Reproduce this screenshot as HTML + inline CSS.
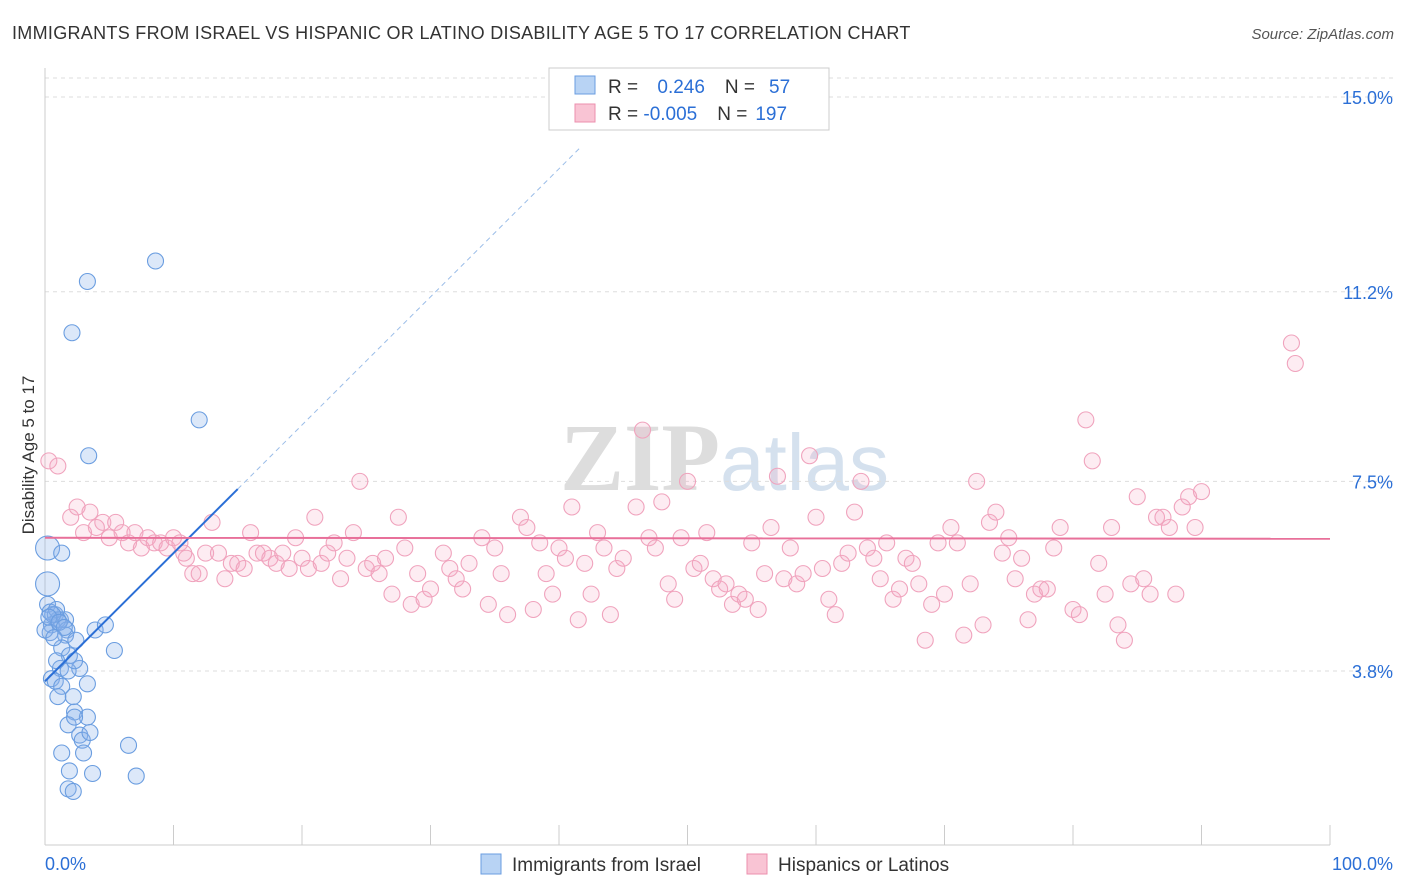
<!DOCTYPE html>
<html><head><meta charset="utf-8"><style>
body{margin:0;background:#fff;font-family:"Liberation Sans",sans-serif}
svg{display:block}
</style></head><body>
<svg id="c" width="1406" height="892">
<text x="12" y="39" font-size="18" letter-spacing="0.3" fill="#333">IMMIGRANTS FROM ISRAEL VS HISPANIC OR LATINO DISABILITY AGE 5 TO 17 CORRELATION CHART</text>
<text x="1394" y="39" font-size="15" fill="#555" text-anchor="end" font-style="italic">Source: ZipAtlas.com</text>
<text x="720" y="490" font-size="96" fill="#ddd" text-anchor="end" font-family="Liberation Serif" font-weight="bold">ZIP</text>
<text x="720" y="490" font-size="80" fill="#d5e1ee">atlas</text>
<text x="34" y="455" font-size="17" fill="#333" text-anchor="middle" transform="rotate(-90 34 455)">Disability Age 5 to 17</text>
<g id="grid"></g><g id="pts"></g><g id="lines"></g>
<g>
<rect x="549" y="68" width="280" height="62" fill="#fff" stroke="#ccc"/>
<rect x="575" y="76" width="20" height="18" fill="#b8d3f4" stroke="#6a9de0"/>
<rect x="575" y="104" width="20" height="18" fill="#f9c4d4" stroke="#ec8fae"/>
<text x="608" y="93" font-size="19" fill="#333">R = <tspan fill="#2b6fd6" dx="14">0.246</tspan><tspan dx="20" fill="#333">N =</tspan><tspan dx="14" fill="#2b6fd6">57</tspan></text>
<text x="608" y="120" font-size="19" fill="#333">R = <tspan fill="#2b6fd6">-0.005</tspan><tspan dx="20" fill="#333">N =</tspan><tspan dx="8" fill="#2b6fd6">197</tspan></text>
</g>
<g>
<rect x="481" y="854" width="20" height="20" fill="#b8d3f4" stroke="#6a9de0"/>
<text x="512" y="871" font-size="19" fill="#333">Immigrants from Israel</text>
<rect x="747" y="854" width="20" height="20" fill="#f9c4d4" stroke="#ec8fae"/>
<text x="778" y="871" font-size="19" fill="#333">Hispanics or Latinos</text>
</g>
<text x="45" y="870" font-size="18" fill="#2b6fd6">0.0%</text>
<text x="1393" y="870" font-size="18" fill="#2b6fd6" text-anchor="end">100.0%</text>
</svg>
<script>
const yTicks=[15.0,11.2,7.5,3.8];
const yTickLabels=["15.0%","11.2%","7.5%","3.8%"];
const blueX=[8.6,3.3,2.1,12.0,3.4,0.2,1.3,0.2,0.2,0.4,0.8,1.2,1.6,0.5,1.0,1.7,0.4,1.6,2.4,3.9,4.7,5.4,1.3,1.9,2.7,1.2,1.8,0.5,0.8,1.3,3.3,1.0,2.2,2.3,3.3,1.8,2.3,2.7,2.9,3.5,3.0,1.3,6.5,1.9,3.7,7.1,1.8,2.2,0.9,0,0.6,0.9,2.3,0.3,1.1,1.5,0.7];
const blueY=[11.8,11.4,10.4,8.7,8.0,6.2,6.1,5.5,5.1,4.95,4.9,4.8,4.8,4.7,4.8,4.6,4.55,4.5,4.4,4.6,4.7,4.2,4.25,4.1,3.85,3.85,3.8,3.65,3.6,3.5,3.55,3.3,3.3,3.0,2.9,2.75,2.9,2.55,2.45,2.6,2.2,2.2,2.35,1.85,1.8,1.75,1.5,1.45,5.0,4.6,4.9,4.0,4.0,4.85,4.75,4.65,4.45];
const pinkX=[0.3,1,2,2.5,3,3.5,4,4.5,5,5.5,6,6.5,7,7.5,8,8.5,9,9.5,10,10.5,11,11.5,12,12.5,13,13.5,14,14.5,15,15.5,16,16.5,17,17.5,18,18.5,19,19.5,20,20.5,21,21.5,22,22.5,23,23.5,24,24.5,25,25.5,26,27,27.5,28,28.5,29,29.5,30,31,31.5,32,32.5,33,34,34.5,35,35.5,36,37,37.5,38,38.5,39,39.5,40,40.5,41,41.5,42,42.5,43,43.5,44,44.5,45,46,46.5,47,47.5,48,48.5,49,49.5,50,50.5,51,51.5,52,52.5,53,53.5,54,54.5,55,55.5,56,56.5,57,57.5,58,58.5,59,59.5,60,60.5,61,61.5,62,62.5,63,63.5,64,64.5,65,65.5,66,66.5,67,67.5,68,68.5,69,69.5,70,70.5,71,71.5,72,72.5,73,73.5,74,74.5,75,75.5,76,76.5,77,77.5,78,79,80,80.5,81,81.5,82,82.5,83,83.5,84,84.5,85,85.5,86,86.5,87,87.5,88,88.5,89,89.5,90,97,97.3,78.5,26.5,10.8];
const pinkY=[7.9,7.8,6.8,7.0,6.5,6.9,6.6,6.7,6.4,6.7,6.5,6.3,6.5,6.2,6.4,6.3,6.3,6.2,6.4,6.3,6.0,5.7,5.7,6.1,6.7,6.1,5.6,5.9,5.9,5.8,6.5,6.1,6.1,6.0,5.9,6.1,5.8,6.4,6.0,5.8,6.8,5.9,6.1,6.3,5.6,6.0,6.5,7.5,5.8,5.9,5.7,5.3,6.8,6.2,5.1,5.7,5.2,5.4,6.1,5.8,5.6,5.4,5.9,6.4,5.1,6.2,5.7,4.9,6.8,6.6,5.0,6.3,5.7,5.3,6.2,6.0,7.0,4.8,5.9,5.3,6.5,6.2,4.9,5.8,6.0,7.0,8.5,6.4,6.2,7.1,5.5,5.2,6.4,7.5,5.8,5.9,6.5,5.6,5.4,5.5,5.1,5.3,5.2,6.3,5.0,5.7,6.6,7.6,5.6,6.2,5.5,5.7,8.0,6.8,5.8,5.2,4.9,5.9,6.1,6.9,7.5,6.2,6.0,5.6,6.3,5.2,5.4,6.0,5.9,5.5,4.4,5.1,6.3,5.3,6.6,6.3,4.5,5.5,7.5,4.7,6.7,6.9,6.1,6.4,5.6,6.0,4.8,5.3,5.4,5.4,6.6,5.0,4.9,8.7,7.9,5.9,5.3,6.6,4.7,4.4,5.5,7.2,5.6,5.3,6.8,6.8,6.6,5.3,7.0,7.2,6.6,7.3,10.2,9.8,6.2,6.0,6.1];
const blueTrend=[[0,3.6],[15,7.35]], blueDash=[[15,7.35],[41.6,14.0]];
const pinkTrend=[[0,6.4],[100,6.38]];
const X=v=>45+v*12.85, Y=v=>97+(15-v)*51.25;
const NS="http://www.w3.org/2000/svg";
function mk(t,a,p){const e=document.createElementNS(NS,t);for(const k in a)e.setAttribute(k,a[k]);p.appendChild(e);return e;}
const g=document.getElementById('grid');
mk('line',{x1:45,x2:1395,y1:78,y2:78,stroke:'#ddd','stroke-dasharray':'4,4'},g);
yTicks.forEach((v,i)=>{let ln=mk('line',{x1:45,x2:1395,y1:Y(v),y2:Y(v),stroke:'#ddd','stroke-dasharray':'4,4'},g);


let t=mk('text',{x:1393,y:Y(v)+7,'font-size':18,fill:'#2b6fd6','text-anchor':'end'},g);t.textContent=yTickLabels[i];

});
mk('line',{x1:45,x2:45,y1:68,y2:845,stroke:'#ccc'},g);
mk('line',{x1:45,x2:1330,y1:845,y2:845,stroke:'#ccc'},g);
for(let i=0;i<=10;i++){let tk=mk('line',{x1:X(i*10),x2:X(i*10),y1:825,y2:845,stroke:'#ccc'},g);

}
const p=document.getElementById('pts');
pinkX.forEach((x,i)=>{let c=mk('circle',{cx:X(x),cy:Y(pinkY[i]),r:8,fill:'rgba(245,170,195,0.22)',stroke:'#f0a3bd','stroke-width':1.1},p);

});
blueX.forEach((x,i)=>{let c=mk('circle',{cx:X(x),cy:Y(blueY[i]),r:(i==5||i==7)?12:8,fill:'rgba(140,180,235,0.3)',stroke:'#6a9de0','stroke-width':1.1},p);

});
const L=document.getElementById('lines');
let a=mk('line',{x1:X(blueTrend[0][0]),y1:Y(blueTrend[0][1]),x2:X(blueTrend[1][0]),y2:Y(blueTrend[1][1]),stroke:'#2b6fd6','stroke-width':2},L);


let b=mk('line',{x1:X(blueDash[0][0]),y1:Y(blueDash[0][1]),x2:X(blueDash[1][0]),y2:Y(blueDash[1][1]),stroke:'#9bbde8','stroke-width':1,'stroke-dasharray':'5,4'},L);


let c=mk('line',{x1:X(pinkTrend[0][0]),y1:Y(pinkTrend[0][1]),x2:X(pinkTrend[1][0]),y2:Y(pinkTrend[1][1]),stroke:'#e8709a','stroke-width':2},L);


</script>
</body></html>
